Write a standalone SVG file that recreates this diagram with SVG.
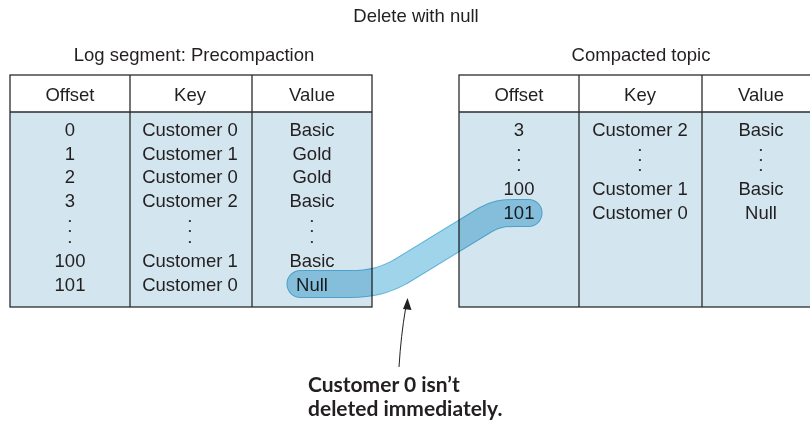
<svg xmlns="http://www.w3.org/2000/svg" width="810" height="422" viewBox="0 0 810 422">
<style>
.t{font-family:"Liberation Sans",Arial,sans-serif;font-size:18.5px;fill:#231f20;text-anchor:middle}
.d{font-family:"Liberation Sans",Arial,sans-serif;font-size:8px;fill:#231f20;text-anchor:middle}
.cap{font-family:Lato,"Liberation Sans",sans-serif;font-weight:bold;font-size:21px;fill:#231f20}
.body{fill:#d3e5ee}
.head{fill:#ffffff}
.ln{stroke:#2b2b2b;stroke-width:1.3;fill:none}
.band{mix-blend-mode:multiply}
</style>
<rect width="810" height="422" fill="#ffffff"/>
<text class="t" x="416" y="22">Delete with null</text>
<text class="t" x="194" y="61">Log segment: Precompaction</text>
<text class="t" x="641" y="61">Compacted topic</text>

<g id="left-table">
<rect class="head" x="10" y="75" width="362" height="37"/>
<rect class="body" x="10" y="112" width="362" height="195"/>
<rect class="ln" x="10" y="75" width="362" height="232"/>
<line class="ln" x1="10" y1="112" x2="372" y2="112"/>
<line class="ln" x1="130" y1="75" x2="130" y2="307"/>
<line class="ln" x1="252" y1="75" x2="252" y2="307"/>
<text class="t" x="70" y="101">Offset</text>
<text class="t" x="190" y="101">Key</text>
<text class="t" x="312" y="101">Value</text>
<text class="t" x="70" y="136">0</text>
<text class="t" x="70" y="159.5">1</text>
<text class="t" x="70" y="183">2</text>
<text class="t" x="70" y="206.5">3</text>
<text class="d" x="70" y="222.5">•<tspan x="70" dy="10.5">•</tspan><tspan x="70" dy="10.5">•</tspan></text>
<text class="t" x="70" y="266.5">100</text>
<text class="t" x="70" y="290.5">101</text>
<text class="t" x="190" y="136">Customer 0</text>
<text class="t" x="190" y="159.5">Customer 1</text>
<text class="t" x="190" y="183">Customer 0</text>
<text class="t" x="190" y="206.5">Customer 2</text>
<text class="d" x="190" y="222.5">•<tspan x="190" dy="10.5">•</tspan><tspan x="190" dy="10.5">•</tspan></text>
<text class="t" x="190" y="266.5">Customer 1</text>
<text class="t" x="190" y="290.5">Customer 0</text>
<text class="t" x="312" y="136">Basic</text>
<text class="t" x="312" y="159.5">Gold</text>
<text class="t" x="312" y="183">Gold</text>
<text class="t" x="312" y="206.5">Basic</text>
<text class="d" x="312" y="222.5">•<tspan x="312" dy="10.5">•</tspan><tspan x="312" dy="10.5">•</tspan></text>
<text class="t" x="312" y="266.5">Basic</text>
<text class="t" x="312" y="290.5">Null</text>
</g>

<g id="right-table">
<rect class="head" x="459" y="75" width="362" height="37"/>
<rect class="body" x="459" y="112" width="362" height="195"/>
<rect class="ln" x="459" y="75" width="362" height="232"/>
<line class="ln" x1="459" y1="112" x2="821" y2="112"/>
<line class="ln" x1="579" y1="75" x2="579" y2="307"/>
<line class="ln" x1="702" y1="75" x2="702" y2="307"/>
<text class="t" x="519" y="101">Offset</text>
<text class="t" x="640" y="101">Key</text>
<text class="t" x="761" y="101">Value</text>
<text class="t" x="519" y="136">3</text>
<text class="d" x="519" y="151.5">•<tspan x="519" dy="10">•</tspan><tspan x="519" dy="10">•</tspan></text>
<text class="t" x="519" y="195">100</text>
<text class="t" x="519" y="219">101</text>
<text class="t" x="640" y="136">Customer 2</text>
<text class="d" x="640" y="151.5">•<tspan x="640" dy="10">•</tspan><tspan x="640" dy="10">•</tspan></text>
<text class="t" x="640" y="195">Customer 1</text>
<text class="t" x="640" y="219">Customer 0</text>
<text class="t" x="761" y="136">Basic</text>
<text class="d" x="761" y="151.5">•<tspan x="761" dy="10">•</tspan><tspan x="761" dy="10">•</tspan></text>
<text class="t" x="761" y="195">Basic</text>
<text class="t" x="761" y="219">Null</text>
</g>

<g id="connectors">
<g class="band">
<path d="M300.5,284 L350,284 C372,284 385,280 400,272 L485,220 C495,214 503,213 515,213 L528.5,213" fill="none" stroke="#5cb3d9" stroke-width="28" stroke-linecap="round" stroke-linejoin="round"/>
<path d="M300.5,284 L350,284 C372,284 385,280 400,272 L485,220 C495,214 503,213 515,213 L528.5,213" fill="none" stroke="#a0d4ea" stroke-width="26" stroke-linecap="round" stroke-linejoin="round"/>
</g>
<path d="M399,367 Q401,335 405.5,309" fill="none" stroke="#231f20" stroke-width="1"/>
<polygon points="407.5,298 411.5,310 403,309" fill="#231f20"/>
</g>

<g id="callout">
<text class="cap" x="308" y="392">Customer 0 isn’t</text>
<text class="cap" x="308" y="416">deleted immediately.</text>
</g>
</svg>
